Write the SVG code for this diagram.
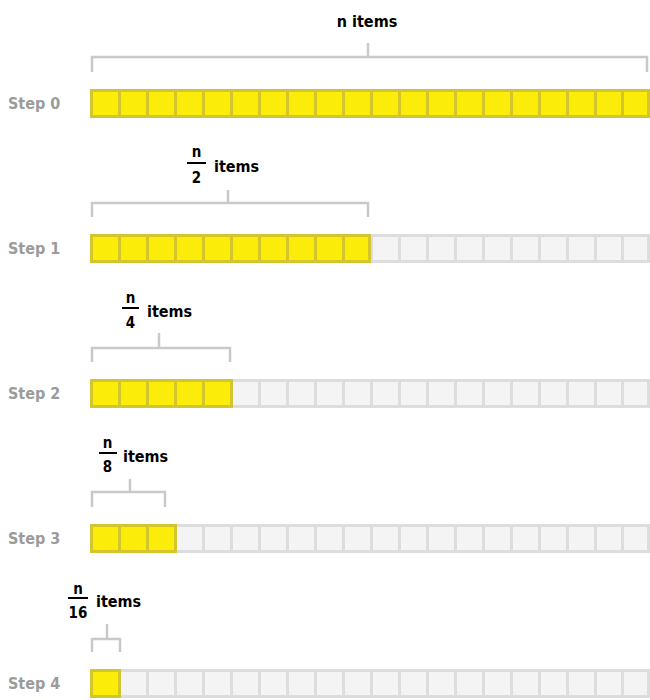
<svg xmlns="http://www.w3.org/2000/svg" width="650" height="700" viewBox="0 0 650 700">
<defs>
<style>
.bg{fill:#ffffff}
.y{fill:#fcec0a;stroke:#d3c52c;stroke-width:3}
.g{fill:#f4f4f4;stroke:#dddddd;stroke-width:3}
.br{fill:none;stroke:#c9c9c9;stroke-width:2.5}
.fl{stroke:#000;stroke-width:2}
.step{font-family:"DejaVu Sans Condensed","DejaVu Sans",sans-serif;font-weight:bold;font-size:16px;fill:#9b9b9b}
.lab{font-family:"DejaVu Sans Condensed","DejaVu Sans",sans-serif;font-weight:bold;font-size:16px;fill:#000}
.num{font-family:"DejaVu Sans Condensed","DejaVu Sans",sans-serif;font-weight:bold;font-size:15px;fill:#000;text-anchor:middle}
</style>
<g id="grayrow">
<rect class="g" x="91.5" y="0" width="28" height="26"/><rect class="g" x="119.5" y="0" width="28" height="26"/><rect class="g" x="147.5" y="0" width="28" height="26"/><rect class="g" x="175.5" y="0" width="28" height="26"/><rect class="g" x="203.5" y="0" width="28" height="26"/><rect class="g" x="231.5" y="0" width="28" height="26"/><rect class="g" x="259.5" y="0" width="28" height="26"/><rect class="g" x="287.5" y="0" width="28" height="26"/><rect class="g" x="315.5" y="0" width="28" height="26"/><rect class="g" x="343.5" y="0" width="28" height="26"/><rect class="g" x="371.5" y="0" width="28" height="26"/><rect class="g" x="399.5" y="0" width="28" height="26"/><rect class="g" x="427.5" y="0" width="28" height="26"/><rect class="g" x="455.5" y="0" width="28" height="26"/><rect class="g" x="483.5" y="0" width="28" height="26"/><rect class="g" x="511.5" y="0" width="28" height="26"/><rect class="g" x="539.5" y="0" width="28" height="26"/><rect class="g" x="567.5" y="0" width="28" height="26"/><rect class="g" x="595.5" y="0" width="28" height="26"/><rect class="g" x="622.5" y="0" width="26" height="26"/>
</g>
</defs>
<rect class="bg" x="0" y="0" width="650" height="700"/>

<g id="step0">
<text class="step" x="8" y="109">Step 0</text>
<g transform="translate(0,90.5)">
<rect class="y" x="91.5" y="0" width="28" height="26"/><rect class="y" x="119.5" y="0" width="28" height="26"/><rect class="y" x="147.5" y="0" width="28" height="26"/><rect class="y" x="175.5" y="0" width="28" height="26"/><rect class="y" x="203.5" y="0" width="28" height="26"/><rect class="y" x="231.5" y="0" width="28" height="26"/><rect class="y" x="259.5" y="0" width="28" height="26"/><rect class="y" x="287.5" y="0" width="28" height="26"/><rect class="y" x="315.5" y="0" width="28" height="26"/><rect class="y" x="343.5" y="0" width="28" height="26"/><rect class="y" x="371.5" y="0" width="28" height="26"/><rect class="y" x="399.5" y="0" width="28" height="26"/><rect class="y" x="427.5" y="0" width="28" height="26"/><rect class="y" x="455.5" y="0" width="28" height="26"/><rect class="y" x="483.5" y="0" width="28" height="26"/><rect class="y" x="511.5" y="0" width="28" height="26"/><rect class="y" x="539.5" y="0" width="28" height="26"/><rect class="y" x="567.5" y="0" width="28" height="26"/><rect class="y" x="595.5" y="0" width="28" height="26"/><rect class="y" x="622.5" y="0" width="26" height="26"/>
</g>
<text class="lab" x="367" y="27" text-anchor="middle">n items</text>
</g>

<g id="step1">
<text class="step" x="8" y="254">Step 1</text>
<use href="#grayrow" y="235.5"/>
<g transform="translate(0,235.5)">
<rect class="y" x="91.5" y="0" width="28" height="26"/><rect class="y" x="119.5" y="0" width="28" height="26"/><rect class="y" x="147.5" y="0" width="28" height="26"/><rect class="y" x="175.5" y="0" width="28" height="26"/><rect class="y" x="203.5" y="0" width="28" height="26"/><rect class="y" x="231.5" y="0" width="28" height="26"/><rect class="y" x="259.5" y="0" width="28" height="26"/><rect class="y" x="287.5" y="0" width="28" height="26"/><rect class="y" x="315.5" y="0" width="28" height="26"/><rect class="y" x="343.5" y="0" width="26" height="26"/>
</g>
<text class="num" x="196.5" y="157">n</text>
<line class="fl" x1="187" y1="163" x2="206" y2="163"/>
<text class="num" x="196.5" y="183">2</text>
<text class="lab" x="214" y="172">items</text>
</g>

<g id="step2">
<text class="step" x="8" y="399">Step 2</text>
<use href="#grayrow" y="380.5"/>
<g transform="translate(0,380.5)">
<rect class="y" x="91.5" y="0" width="28" height="26"/><rect class="y" x="119.5" y="0" width="28" height="26"/><rect class="y" x="147.5" y="0" width="28" height="26"/><rect class="y" x="175.5" y="0" width="28" height="26"/><rect class="y" x="203.5" y="0" width="28" height="26"/>
</g>
<text class="num" x="130.5" y="303">n</text>
<line class="fl" x1="122" y1="308" x2="139" y2="308"/>
<text class="num" x="130.5" y="328">4</text>
<text class="lab" x="147" y="317">items</text>
</g>

<g id="step3">
<text class="step" x="8" y="544">Step 3</text>
<use href="#grayrow" y="525.5"/>
<g transform="translate(0,525.5)">
<rect class="y" x="91.5" y="0" width="28" height="26"/><rect class="y" x="119.5" y="0" width="28" height="26"/><rect class="y" x="147.5" y="0" width="28" height="26"/>
</g>
<text class="num" x="107.5" y="448">n</text>
<line class="fl" x1="99" y1="453" x2="117" y2="453"/>
<text class="num" x="107.5" y="472">8</text>
<text class="lab" x="123" y="462">items</text>
</g>

<g id="step4">
<text class="step" x="8" y="689">Step 4</text>
<use href="#grayrow" y="670.5"/>
<g transform="translate(0,670.5)">
<rect class="y" x="91.5" y="0" width="28" height="26"/>
</g>
<text class="num" x="78" y="594">n</text>
<line class="fl" x1="68" y1="598" x2="88" y2="598"/>
<text class="num" x="78" y="618">16</text>
<text class="lab" x="96" y="607">items</text>
</g>

<g id="connectors">
<path class="br" d="M92 72 V57 H647 V72 M368 57 V43"/>
<path class="br" d="M92 217 V203 H368 V217 M228 203 V190"/>
<path class="br" d="M92 362 V348 H230 V362 M159 348 V333"/>
<path class="br" d="M92 507 V492 H165 V507 M130 492 V479"/>
<path class="br" d="M92 652 V639 H120 V652 M107 639 V624"/>
</g>
</svg>
